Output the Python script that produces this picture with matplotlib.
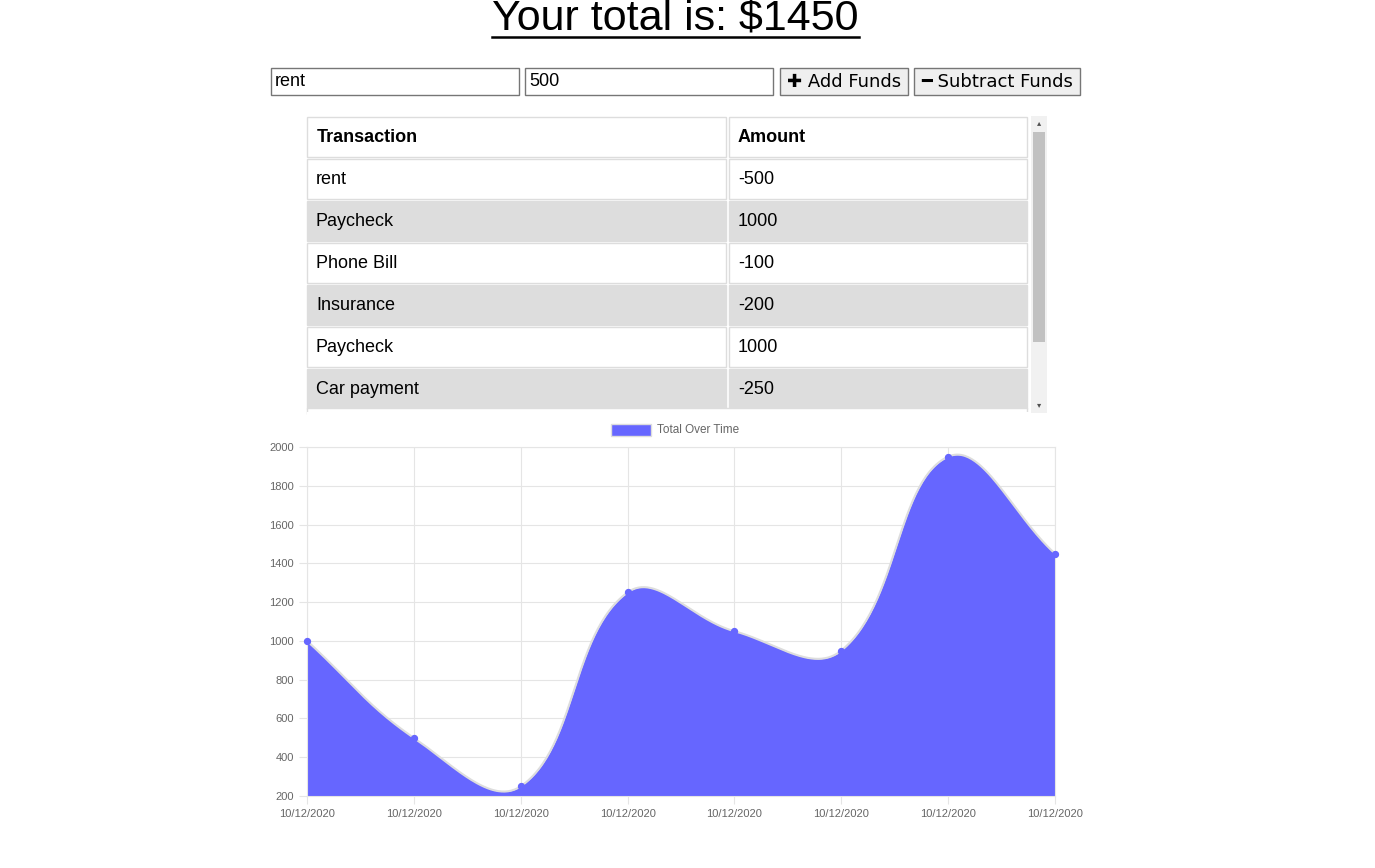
import matplotlib
matplotlib.use("Agg")
import matplotlib.pyplot as plt
from matplotlib.patches import Rectangle
import numpy as np

TOTAL = 1450
INPUT_NAME = "rent"
INPUT_AMOUNT = "500"
TX_NAMES = ["rent", "Paycheck", "Phone Bill", "Insurance", "Paycheck", "Car payment"]
TX_AMOUNTS = [-500, 1000, -100, -200, 1000, -250]
DATES = ["10/12/2020"] * 8
TOTALS = [1000, 500, 250, 1250, 1050, 950, 1950, 1450]
Y_TICKS = list(range(200, 2001, 200))

FILL = "#6666ff"
W, H = 1375, 868

fig = plt.figure(figsize=(W / 100, H / 100), dpi=100)

# page overlay in pixel coordinates
ui = fig.add_axes([0, 0, 1, 1])
ui.set_xlim(0, W)
ui.set_ylim(H, 0)
ui.axis("off")

ui.text(675, 18, f"Your total is: ${TOTAL}", ha="center", va="center", fontsize=31,
        family="Liberation Sans")
ui.plot([492, 859], [37, 37], color="black", lw=1.8)

def box(x, y, w, h, fc="white", ec="#767676", lw=1):
    ui.add_patch(Rectangle((x, y), w, h, facecolor=fc, edgecolor=ec, lw=lw))

box(271, 68, 248, 27)
ui.text(275, 82, INPUT_NAME, va="center", fontsize=13, family="Liberation Sans")
box(525, 68, 248, 27)
ui.text(529, 82, INPUT_AMOUNT, va="center", fontsize=13, family="Liberation Sans")
box(780, 68, 128, 27, fc="#efefef")
ui.text(844, 82, "\u271a Add Funds", ha="center", va="center", fontsize=13, family="DejaVu Sans")
box(914, 68, 166, 27, fc="#efefef")
ui.text(997, 82, "\u2501 Subtract Funds", ha="center", va="center", fontsize=13, family="DejaVu Sans")

# table
row_h = 42
top = 116
rows = [("Transaction", "Amount", True)] + [(n, str(a), False) for n, a in zip(TX_NAMES, TX_AMOUNTS)]
for i, (n, a, hdr) in enumerate(rows):
    y = top + i * row_h
    fc = "#dddddd" if (i % 2 == 0 and i > 0) else "white"
    box(307, y + 1, 419, row_h - 2, fc=fc, ec="#dddddd")
    box(729, y + 1, 298, row_h - 2, fc=fc, ec="#dddddd")
    ui.text(316 if not hdr else 317, y + row_h / 2, n, va="center", fontsize=13,
            family="Liberation Sans", weight="bold" if hdr else "normal")
    ui.text(738, y + row_h / 2, a, va="center", fontsize=13,
            family="Liberation Sans", weight="bold" if hdr else "normal")
box(307, top + 7 * row_h - 2, 720, 6, fc="white", ec="#dddddd")
ui.add_patch(Rectangle((307, 412), 740, 10, facecolor="white", edgecolor="none"))
# scrollbar
box(1031, 116, 16, 297, fc="#f1f1f1", ec="none")
box(1033, 132, 12, 210, fc="#c1c1c1", ec="none")
ui.text(1039, 123, "\u25b4", ha="center", va="center", fontsize=6, color="#505050")
ui.text(1039, 405, "\u25be", ha="center", va="center", fontsize=6, color="#505050")

# legend
box(611, 424, 40, 12, fc=FILL, ec="#dddddd")
ui.text(657, 430, "Total Over Time", va="center", fontsize=8.5, color="#666666",
        family="Liberation Sans")

# chart
ax = fig.add_axes([307 / W, 1 - 796 / H, 748 / W, 349 / H])
ax.set_zorder(-1)
x = np.arange(len(TOTALS))
y = np.array(TOTALS, float)
# Chart.js style bezier (tension 0.4), computed in pixel space
px = x * 748 / 7
py = y * 349 / 1800
t = 0.4
cps = []
for i in range(len(x)):
    p0 = (px[max(i - 1, 0)], py[max(i - 1, 0)])
    p2 = (px[min(i + 1, len(x) - 1)], py[min(i + 1, len(x) - 1)])
    d01 = np.hypot(px[i] - p0[0], py[i] - p0[1])
    d12 = np.hypot(p2[0] - px[i], p2[1] - py[i])
    s = d01 + d12 if d01 + d12 else 1
    fa, fb = t * d01 / s, t * d12 / s
    dx, dy = p2[0] - p0[0], p2[1] - p0[1]
    cps.append(((px[i] - fa * dx, py[i] - fa * dy), (px[i] + fb * dx, py[i] + fb * dy)))
cx, cy = [], []
u = np.linspace(0, 1, 60)
for i in range(len(x) - 1):
    P0 = np.array([px[i], py[i]]); P1 = np.array(cps[i][1])
    P2 = np.array(cps[i + 1][0]); P3 = np.array([px[i + 1], py[i + 1]])
    B = ((1 - u) ** 3)[:, None] * P0 + (3 * (1 - u) ** 2 * u)[:, None] * P1 \
        + (3 * (1 - u) * u ** 2)[:, None] * P2 + (u ** 3)[:, None] * P3
    cx.extend(B[:, 0]); cy.extend(B[:, 1])
cx = np.array(cx) * 7 / 748
cy = np.array(cy) * 1800 / 349
ax.fill_between(cx, cy, 200, color=FILL, lw=0, zorder=2)
ax.plot(cx, cy, color="#dddddd", lw=1.5, zorder=3)
ax.scatter(x, y, s=18, color=FILL, zorder=4, clip_on=False)
ax.set_xlim(0, 7)
ax.set_ylim(200, 2000)
ax.set_xticks(x)
ax.set_xticklabels(DATES)
ax.set_yticks(Y_TICKS)
ax.grid(color="#e5e5e5", lw=0.8)
ax.set_axisbelow(True)
for s in ax.spines.values():
    s.set_color("#e5e5e5")
ax.tick_params(colors="#e5e5e5", labelcolor="#666666", labelsize=8, length=6)
for lab in ax.get_xticklabels() + ax.get_yticklabels():
    lab.set_family("Liberation Sans")

fig.savefig("out.png", dpi=100)
